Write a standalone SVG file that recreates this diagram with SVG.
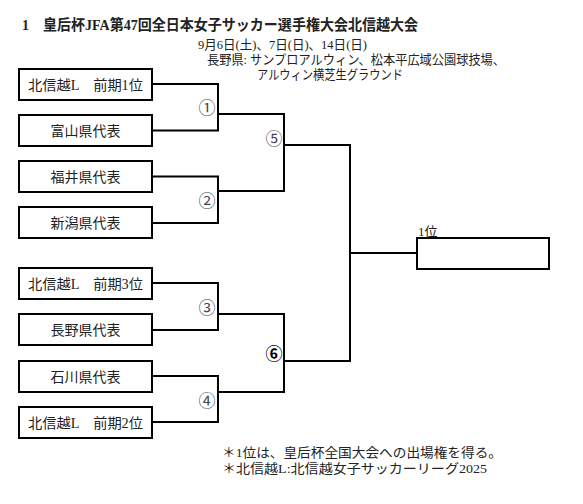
<svg xmlns="http://www.w3.org/2000/svg" width="583" height="504" viewBox="0 0 583 504">
<style>
text{font-family:"Liberation Serif","Noto Sans CJK JP",serif;fill:#222}
.box rect{fill:#fff;stroke:#000;stroke-width:2}
.box text{font-size:14px;text-anchor:middle}
.conn path{fill:none;stroke:#000;stroke-width:2}
.num{font-size:17px;fill:#445;text-anchor:middle}
</style>
<rect width="583" height="504" fill="#fff"/>
<text x="22" y="30" font-size="15" font-weight="bold" textLength="396" lengthAdjust="spacingAndGlyphs">1　皇后杯JFA第47回全日本女子サッカー選手権大会北信越大会</text>
<text x="198" y="49" font-size="13" textLength="169" lengthAdjust="spacingAndGlyphs">9月6日(土)、7日(日)、14日(日)</text>
<text x="207" y="64" font-size="13" textLength="298" lengthAdjust="spacingAndGlyphs">長野県: サンプロアルウィン、松本平広域公園球技場、</text>
<text x="257" y="79" font-size="13" textLength="146" lengthAdjust="spacingAndGlyphs">アルウィン横芝生グラウンド</text>
<g class="conn">
<path d="M152 84H218V130.5H152"/>
<path d="M152 176.5H218V223H152"/>
<path d="M218 114H284V191H218"/>
<path d="M152 283H218V330H152"/>
<path d="M152 376H218V422H152"/>
<path d="M218 314H284V392H218"/>
<path d="M284 145H350V361H284"/>
<path d="M350 253H417"/>
</g>
<g id="n1" class="box"><rect x="19" y="69" width="133" height="31"/><text x="85.5" y="89.5" textLength="115" lengthAdjust="spacingAndGlyphs">北信越L　前期1位</text></g>
<g id="n2" class="box"><rect x="19" y="115" width="133" height="31"/><text x="85.5" y="135.5">富山県代表</text></g>
<g id="n3" class="box"><rect x="19" y="161" width="133" height="31"/><text x="85.5" y="181.5">福井県代表</text></g>
<g id="n4" class="box"><rect x="19" y="207" width="133" height="31"/><text x="85.5" y="227.5">新潟県代表</text></g>
<g id="n5" class="box"><rect x="19" y="268" width="133" height="31"/><text x="85.5" y="288.5" textLength="115" lengthAdjust="spacingAndGlyphs">北信越L　前期3位</text></g>
<g id="n6" class="box"><rect x="19" y="314" width="133" height="31"/><text x="85.5" y="334.5">長野県代表</text></g>
<g id="n7" class="box"><rect x="19" y="361" width="133" height="31"/><text x="85.5" y="381.5">石川県代表</text></g>
<g id="n8" class="box"><rect x="19" y="407" width="133" height="31"/><text x="85.5" y="427.5" textLength="115" lengthAdjust="spacingAndGlyphs">北信越L　前期2位</text></g>
<g id="final" class="box"><rect x="417" y="238" width="132" height="31"/></g>
<g id="labels">
<text class="num" x="207" y="114">①</text>
<text class="num" x="207" y="207">②</text>
<text class="num" x="274" y="145">⑤</text>
<text class="num" x="207" y="314">③</text>
<text class="num" x="207" y="407">④</text>
<text class="num" x="274" y="360" style="fill:#000;font-weight:bold">⑥</text>
<text x="418" y="236" font-size="13" fill="#333">1位</text>
</g>
<text x="222" y="457" font-size="13" textLength="280" lengthAdjust="spacingAndGlyphs">＊1位は、皇后杯全国大会への出場権を得る。</text>
<text x="222" y="473" font-size="13" textLength="265" lengthAdjust="spacingAndGlyphs">＊北信越L:北信越女子サッカーリーグ2025</text>
</svg>
